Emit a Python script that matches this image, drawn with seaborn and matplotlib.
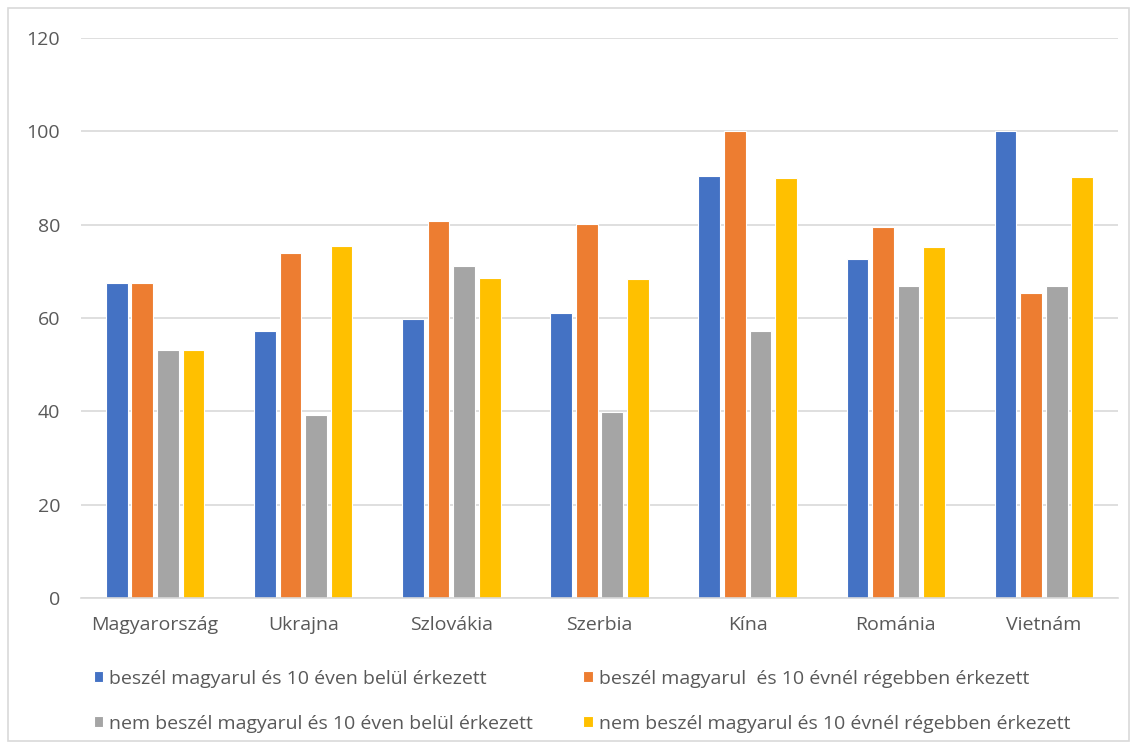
import numpy as np
import pandas as pd
import matplotlib
matplotlib.use("Agg")
import matplotlib.pyplot as plt
import seaborn as sns
from matplotlib.patches import Rectangle

# --- Data ---
countries = ["Magyarország", "Ukrajna", "Szlovákia", "Szerbia", "Kína", "Románia", "Vietnám"]
series_names = [
    "beszél magyarul és 10 éven belül érkezett",
    "beszél magyarul  és 10 évnél régebben érkezett",
    "nem beszél magyarul és 10 éven belül érkezett",
    "nem beszél magyarul és 10 évnél régebben érkezett",
]
speaks_recent = [67.6, 57.2, 59.8, 61.1, 90.4, 72.6, 100.0]
speaks_older = [67.6, 74.0, 80.7, 80.1, 100.0, 79.6, 65.3]
nospeak_recent = [53.1, 39.2, 71.1, 39.8, 57.3, 66.8, 66.8]
nospeak_older = [53.1, 75.5, 68.6, 68.3, 89.9, 75.3, 90.2]
colors = ["#4472C4", "#ED7D31", "#A5A5A5", "#FFC000"]

rows = []
for name, vals in zip(series_names, [speaks_recent, speaks_older, nospeak_recent, nospeak_older]):
    for c, v in zip(countries, vals):
        rows.append({"country": c, "group": name, "value": v})
df = pd.DataFrame(rows)

# --- Plot ---
sns.set_theme(style="white")
plt.rcParams["font.family"] = ["Open Sans", "DejaVu Sans"]
text_color = "#595959"
fs = 14

fig = plt.figure(figsize=(11.37, 7.45), dpi=100)
ax = fig.add_axes([81 / 1137, 1 - 598 / 745, (1118 - 81) / 1137, (598 - 38) / 745])

sns.barplot(
    data=df, x="country", y="value", hue="group",
    order=countries, hue_order=series_names, palette=colors,
    width=0.69, gap=0.15, edgecolor="white", linewidth=0.8,
    saturation=1, ax=ax, legend=True,
)

ax.set_ylim(0, 120)
ax.set_yticks(range(0, 121, 20))
ax.set_xlabel("")
ax.set_ylabel("")
ax.yaxis.grid(True, color="#D9D9D9", linewidth=1.2)
ax.set_axisbelow(True)
for s in ["left", "right", "top"]:
    ax.spines[s].set_visible(False)
ax.spines["bottom"].set_color("#D9D9D9")
ax.spines["bottom"].set_linewidth(1.2)
ax.tick_params(axis="both", length=0, labelsize=fs, labelcolor=text_color)
ax.tick_params(axis="y", pad=15)
ax.tick_params(axis="x", pad=13)

# legend filled row by row, like the original
handles, labels = ax.get_legend_handles_labels()
ax.get_legend().remove()
order = [0, 2, 1, 3]
fig.legend(
    [handles[i] for i in order], [labels[i] for i in order],
    ncol=2, loc="upper left",
    bbox_to_anchor=(76 / 1137, 1 - 652 / 745),
    frameon=False, fontsize=fs, labelcolor=text_color,
    handlelength=0.5, handleheight=0.5, handletextpad=0.3,
    columnspacing=2.6, labelspacing=1.4,
)

# outer chart border
fig.patches.append(Rectangle((8 / 1137, 4 / 745), 1121 / 1137, 733 / 745,
                             transform=fig.transFigure, fill=False,
                             edgecolor="#D9D9D9", linewidth=1.2))

fig.savefig("out.png", dpi=100)
